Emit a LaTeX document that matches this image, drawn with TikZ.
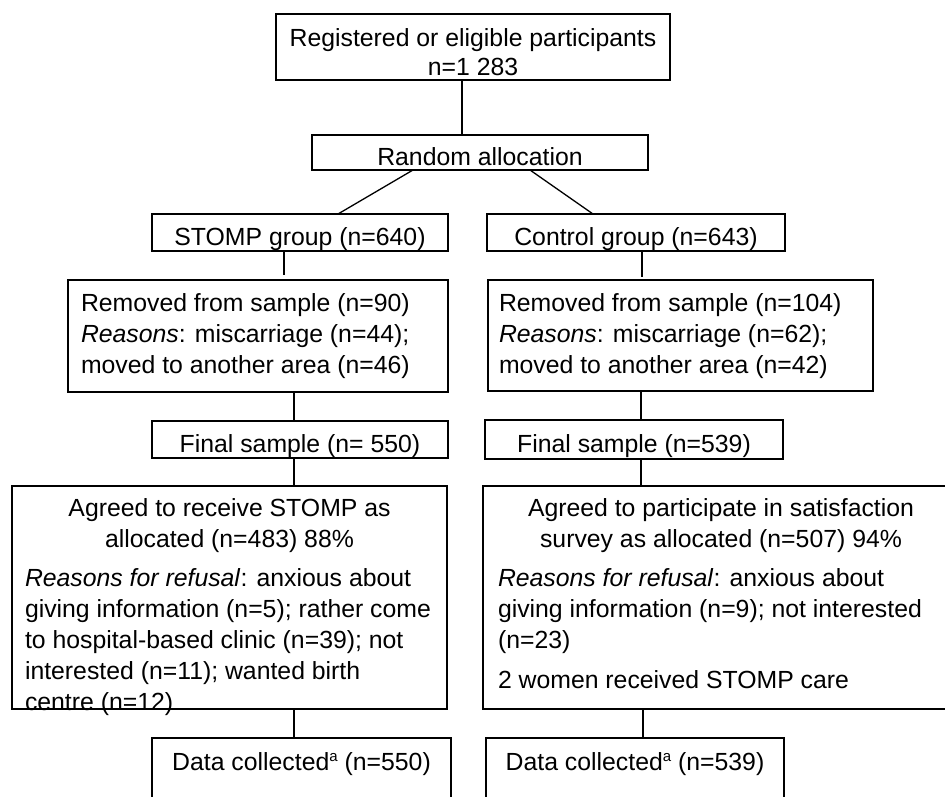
\documentclass[tikz,border=0pt]{standalone}
\usepackage{fontspec}
\setmainfont{Liberation Sans}
\newcommand{\supa}{\raisebox{8.5pt}{\fontsize{15}{15}\selectfont a}}
\begin{document}
\begin{tikzpicture}[x=1pt,y=-1pt,
  font=\fontsize{24.8}{31}\selectfont,
  box/.style={draw=black,line width=1.3pt,rectangle,inner sep=0pt,outer sep=0pt},
  lbl/.style={text height=25pt,text depth=0pt},
  para/.style={inner sep=0pt,outer sep=0pt},
  link/.style={draw=black,line width=1.3pt}]
\useasboundingbox (0,0) rectangle (945,796);
\clip (0,0) rectangle (945,796);
\fill[white] (0,0) rectangle (945,796);

% ---- boxes ----
\node[box,minimum width=394pt,minimum height=66pt] (top) at (473,47) {};
\node[para,anchor=north,align=center] (topT) at ([yshift=-10.3pt]top.north)
  {\strut Registered or eligible participants\\[-1.5pt] n=1 283};

\node[box,lbl,minimum width=336pt,minimum height=35pt] (rand) at (480,152.5) {Random allocation};

\node[box,lbl,minimum width=296pt,minimum height=37pt] (stomp) at (300,232.5) {STOMP group (n=640)};
\node[box,lbl,minimum width=298pt,minimum height=37pt] (ctrl) at (636,232.5) {Control group (n=643)};

\node[box,minimum width=380pt,minimum height=112pt] (remL) at (258,336) {};
\node[para,anchor=north west,align=left] (remLT) at ([xshift=13pt,yshift=-9.3pt]remL.north west)
  {\strut Removed from sample (n=90)\\ \textit{Reasons}: miscarriage (n=44);\\ moved to another area (n=46)};
\node[box,minimum width=385pt,minimum height=111pt] (remR) at (680.5,335.5) {};
\node[para,anchor=north west,align=left] (remRT) at ([xshift=11pt,yshift=-9.3pt]remR.north west)
  {\strut Removed from sample (n=104)\\ \textit{Reasons}: miscarriage (n=62);\\ moved to another area (n=42)};

\node[box,lbl,minimum width=296pt,minimum height=37pt] (finL) at (300,439.5) {Final sample (n= 550)};
\node[box,lbl,minimum width=298pt,minimum height=39pt] (finR) at (634,439.5) {Final sample (n=539)};

\node[box,minimum width=435pt,minimum height=223pt] (agrL) at (229.5,597.5) {};
\node[para,anchor=north,align=center] (agrLT) at ([yshift=-8.3pt]agrL.north)
  {\strut Agreed to receive STOMP as\\ allocated (n=483) 88\%};
\node[para,anchor=north west,align=left] (agrLR) at ([xshift=13pt,yshift=-78.3pt]agrL.north west)
  {\strut \textit{Reasons for refusal}: anxious about\\ giving information (n=5); rather come\\
   to hospital-based clinic (n=39); not\\ interested (n=11); wanted birth\\ centre (n=12)};

\node[box,minimum width=476pt,minimum height=223pt] (agrR) at (721,597.5) {};
\node[para,anchor=north,align=center] (agrRT) at ([yshift=-8.3pt]agrR.north)
  {\strut Agreed to participate in satisfaction\\ survey as allocated (n=507) 94\%};
\node[para,anchor=north west,align=left] (agrRR) at ([xshift=15pt,yshift=-78.3pt]agrR.north west)
  {\strut \textit{Reasons for refusal}: anxious about\\ giving information (n=9); not interested\\ (n=23)\\[9pt]
   2 women received STOMP care};

\node[box,text height=18pt,text depth=34pt,minimum width=299pt,minimum height=80pt] (dataL) at (301.5,778)
  {Data collected\supa{} (n=550)};
\node[box,text height=18pt,text depth=34pt,minimum width=298pt,minimum height=80pt] (dataR) at (635,778)
  {Data collected\supa{} (n=539)};

% ---- connectors ----
\draw[link] ([xshift=-11pt]top.south) -- ([xshift=-18pt]rand.north);
\draw[link] ([xshift=-67pt]rand.south) -- ([xshift=38pt]stomp.north);
\draw[link] ([xshift=50pt]rand.south) -- ([xshift=-43pt]ctrl.north);
\draw[link,shorten >=5pt] ([xshift=-16pt]stomp.south) -- ([xshift=26pt]remL.north);
\draw[link,shorten >=3pt] ([xshift=6pt]ctrl.south) -- ([xshift=-38.5pt]remR.north);
\draw[link] ([xshift=36pt]remL.south) -- ([xshift=-6pt]finL.north);
\draw[link] ([xshift=-39.5pt]remR.south) -- ([xshift=7pt]finR.north);
\draw[link] ([xshift=-6pt]finL.south) -- ([xshift=64.5pt]agrL.north);
\draw[link] ([xshift=7pt]finR.south) -- ([xshift=-80pt]agrR.north);
\draw[link] ([xshift=64.5pt]agrL.south) -- ([xshift=-7.5pt]dataL.north);
\draw[link] ([xshift=-78pt]agrR.south) -- ([xshift=8pt]dataR.north);
\end{tikzpicture}
\end{document}
